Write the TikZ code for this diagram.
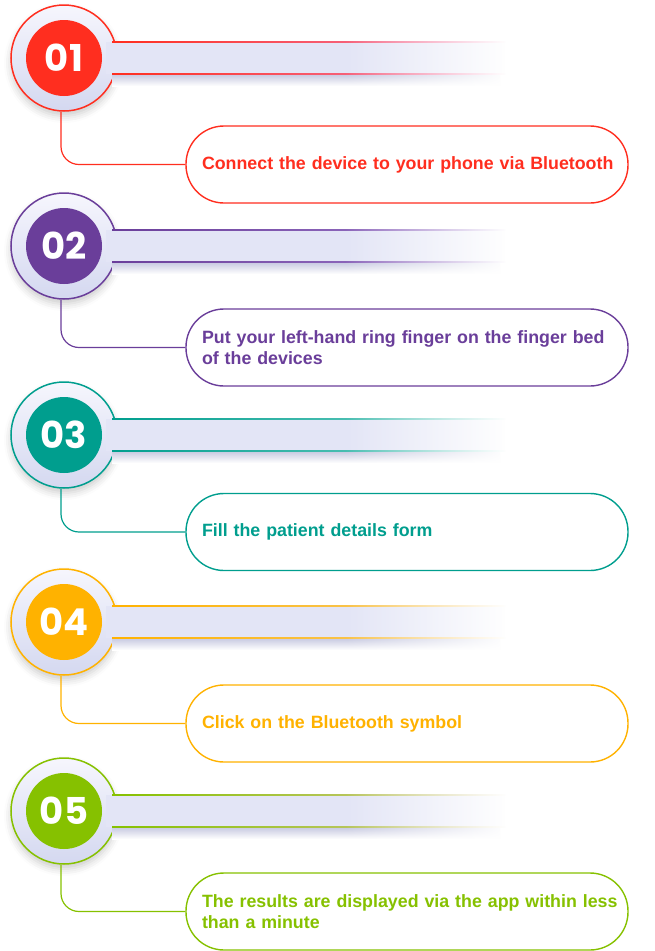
\documentclass[tikz,border=0pt]{standalone}
\usepackage{fontspec}
\setmainfont{Liberation Sans}
\newfontfamily\numfont{Poppins}
\usepackage{tikz}
\usetikzlibrary{positioning,calc,fadings,shadows.blur}
\definecolor{sRed}{RGB}{255,46,31}
\definecolor{sRedB}{RGB}{240,130,180}
\definecolor{sPurple}{RGB}{106,62,154}
\definecolor{sPurpleB}{RGB}{160,125,205}
\definecolor{sTeal}{RGB}{0,158,142}
\definecolor{sTealB}{RGB}{120,210,200}
\definecolor{sAmber}{RGB}{255,178,0}
\definecolor{sAmberB}{RGB}{245,205,120}
\definecolor{sGreen}{RGB}{134,193,0}
\definecolor{sGreenB}{RGB}{215,200,150}
\definecolor{ringTop}{RGB}{246,246,253}
\definecolor{ringBot}{RGB}{212,216,240}
\definecolor{barFill}{RGB}{227,229,246}
\definecolor{barShade}{RGB}{198,200,224}
\tikzset{
  ring/.style={circle, draw=#1, line width=1.5pt, minimum size=106pt,
               inner sep=0pt, top color=ringTop, bottom color=ringBot,
               blur shadow={shadow xshift=0pt, shadow yshift=-5pt,
                            shadow blur radius=7pt, shadow opacity=20}},
  badge/.style={circle, fill=#1, minimum size=76pt, inner sep=0pt,
                text=white, font=\numfont\bfseries\fontsize{37}{37}\selectfont},
  pill/.style={rectangle, rounded corners=38pt, draw=#1, line width=1.4pt,
               fill=white, minimum width=442pt, minimum height=77pt,
               inner xsep=16pt, text width=410pt, align=left, text=#1,
               font=\bfseries\fontsize{17.8}{21}\selectfont},
  link/.style={draw=#1, line width=1.2pt, rounded corners=18pt},
}
% bar behind each number: y of its centre, line colour, far line colour
\newcommand{\StepBar}[3]{%
  \shade[top color=barShade, bottom color=white] (112,#1+16) rectangle (500,#1+28);
  \fill[barFill] (106,#1-16) rectangle (505,#1+16);
  \shade[left color=#2, right color=#3] (112,#1-16.8) rectangle (505,#1-15.2);
  \shade[left color=#2, right color=#3] (112,#1+15.2) rectangle (505,#1+16.8);
  \fill[white, path fading=west] (345,#1-24) rectangle (507,#1+32);}

\begin{document}
\begin{tikzpicture}[x=1pt,y=-1pt]
  \useasboundingbox (0,0) rectangle (654,951);

  % step 01
  \node[ring=sRed] (r1) at (64,58) {};
  \StepBar{58}{sRed}{sRedB}
  \node[badge=sRed] (n1) at (r1) {01};
  \node[pill=sRed] (b1) at (407,164.5)
       {\mbox{Connect the device to your phone via Bluetooth}};
  \draw[link=sRed] ([xshift=-3pt]r1.south) |- (b1.west);

  % step 02
  \node[ring=sPurple] (r2) at (64,246) {};
  \StepBar{246}{sPurple}{sPurpleB}
  \node[badge=sPurple] (n2) at (r2) {02};
  \node[pill=sPurple] (b2) at (407,347.5)
       {\mbox{Put your left-hand ring finger on the finger bed}\\of the devices};
  \draw[link=sPurple] ([xshift=-3pt]r2.south) |- (b2.west);

  % step 03
  \node[ring=sTeal] (r3) at (64,435) {};
  \StepBar{435}{sTeal}{sTealB}
  \node[badge=sTeal] (n3) at (r3) {03};
  \node[pill=sTeal] (b3) at (407,532) {Fill the patient details form};
  \draw[link=sTeal] ([xshift=-3pt]r3.south) |- (b3.west);

  % step 04
  \node[ring=sAmber] (r4) at (64,622) {};
  \StepBar{622}{sAmber}{sAmberB}
  \node[badge=sAmber] (n4) at (r4) {04};
  \node[pill=sAmber] (b4) at (407,723.5) {Click on the Bluetooth symbol};
  \draw[link=sAmber] ([xshift=-3pt]r4.south) |- (b4.west);

  % step 05
  \node[ring=sGreen] (r5) at (64,811) {};
  \StepBar{811}{sGreen}{sGreenB}
  \node[badge=sGreen] (n5) at (r5) {05};
  \node[pill=sGreen] (b5) at (407,911.5)
       {\mbox{The results are displayed via the app within less}\\than a minute};
  \draw[link=sGreen] ([xshift=-3pt]r5.south) |- (b5.west);
\end{tikzpicture}
\end{document}
